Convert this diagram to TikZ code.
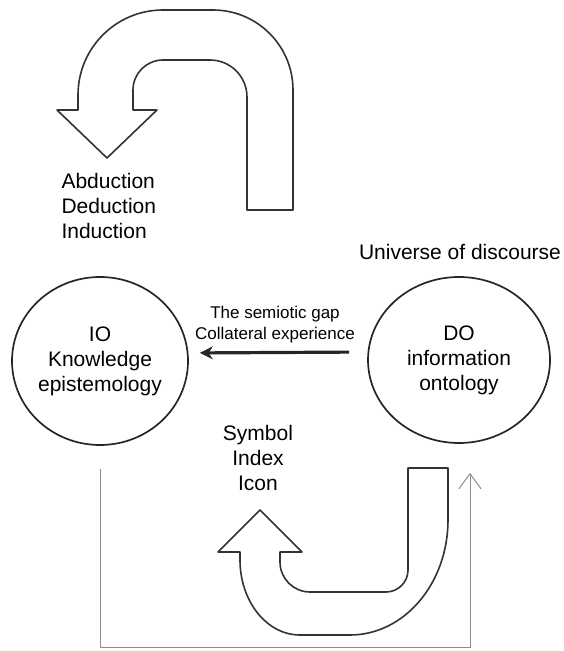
\documentclass[tikz,border=0pt]{standalone}
\usepackage{fontspec}
\setmainfont{Liberation Sans}
\usetikzlibrary{arrows.meta,shapes.geometric}
\begin{document}
\begin{tikzpicture}[x=1pt,y=1pt,
        blockarrow/.style={line width=1.6pt,draw=black!80,line join=round},
        circ/.style={ellipse,draw=black!85,line width=1.7pt,align=center,inner sep=0pt},
        txt/.style={align=center,font=\fontsize{21pt}{25pt}\selectfont},
        gap/.style={line width=3.2pt,draw=black!85,-{Stealth[length=13pt,width=13pt]}},
        feedback/.style={line width=1pt,draw=black!45,-{Straight Barb[length=15pt,width=22pt]}}]
        \useasboundingbox (0,0) rectangle (564,651);

        % Kreise
        \node[circ,minimum width=176pt,minimum height=168pt,font=\fontsize{21pt}{25pt}\selectfont] (IO) at (100,290) {IO\\Knowledge\\epistemology};
        \node[circ,minimum width=182pt,minimum height=166pt,font=\fontsize{21pt}{25pt}\selectfont] (DO) at (459,291) {DO\\information\\ontology};

        % Texte
        \node[txt,align=left,anchor=west] (logic) at (58,445) {Abduction\\Deduction\\Induction};
        \node[txt] (universe) at (460,399) {Universe of discourse};
        \node[txt] (signs) at (258,193) {Symbol\\Index\\Icon};
        \node[align=center,font=\fontsize{17pt}{21pt}\selectfont] (gaptext) at (275,326) {The semiotic gap\\Collateral experience};

        % Pfeile
        \draw[gap,shorten <=18pt,shorten >=11pt] ([yshift=8pt]DO.west) -- ([yshift=8pt]IO.east);

        \coordinate (bl) at (100,3);
        \coordinate (br) at (470,3);
        \draw[feedback,shorten <=23pt,shorten >=29pt] (IO.south) -- (bl) -- (br) -- (br |- DO.south);

        % Blockpfeil oben
        \draw[blockarrow] (293,441) -- (293,561) arc[start angle=0,end angle=90,radius=80]
            -- (163,641) arc[start angle=90,end angle=180,radius=85]
            -- (78,541) -- (57,541) -- (107,493) -- (157,541) -- (133,541)
            -- (133,561) arc[start angle=180,end angle=90,radius=30]
            -- (210,591) arc[start angle=90,end angle=0,radius=37]
            -- (247,441) -- cycle;

        % Blockpfeil unten
        \draw[blockarrow] (408,183) -- (448,183)
            -- (448,131) arc[start angle=0,end angle=-90,x radius=98,y radius=115]
            -- (300,16) arc[start angle=270,end angle=180,x radius=60,y radius=75]
            -- (240,99) -- (218,99) -- (260,141) -- (302,99) -- (280,99)
            -- (280,89) arc[start angle=180,end angle=270,radius=30]
            -- (386,59) arc[start angle=270,end angle=360,radius=22]
            -- cycle;
    \end{tikzpicture}
\end{document}
